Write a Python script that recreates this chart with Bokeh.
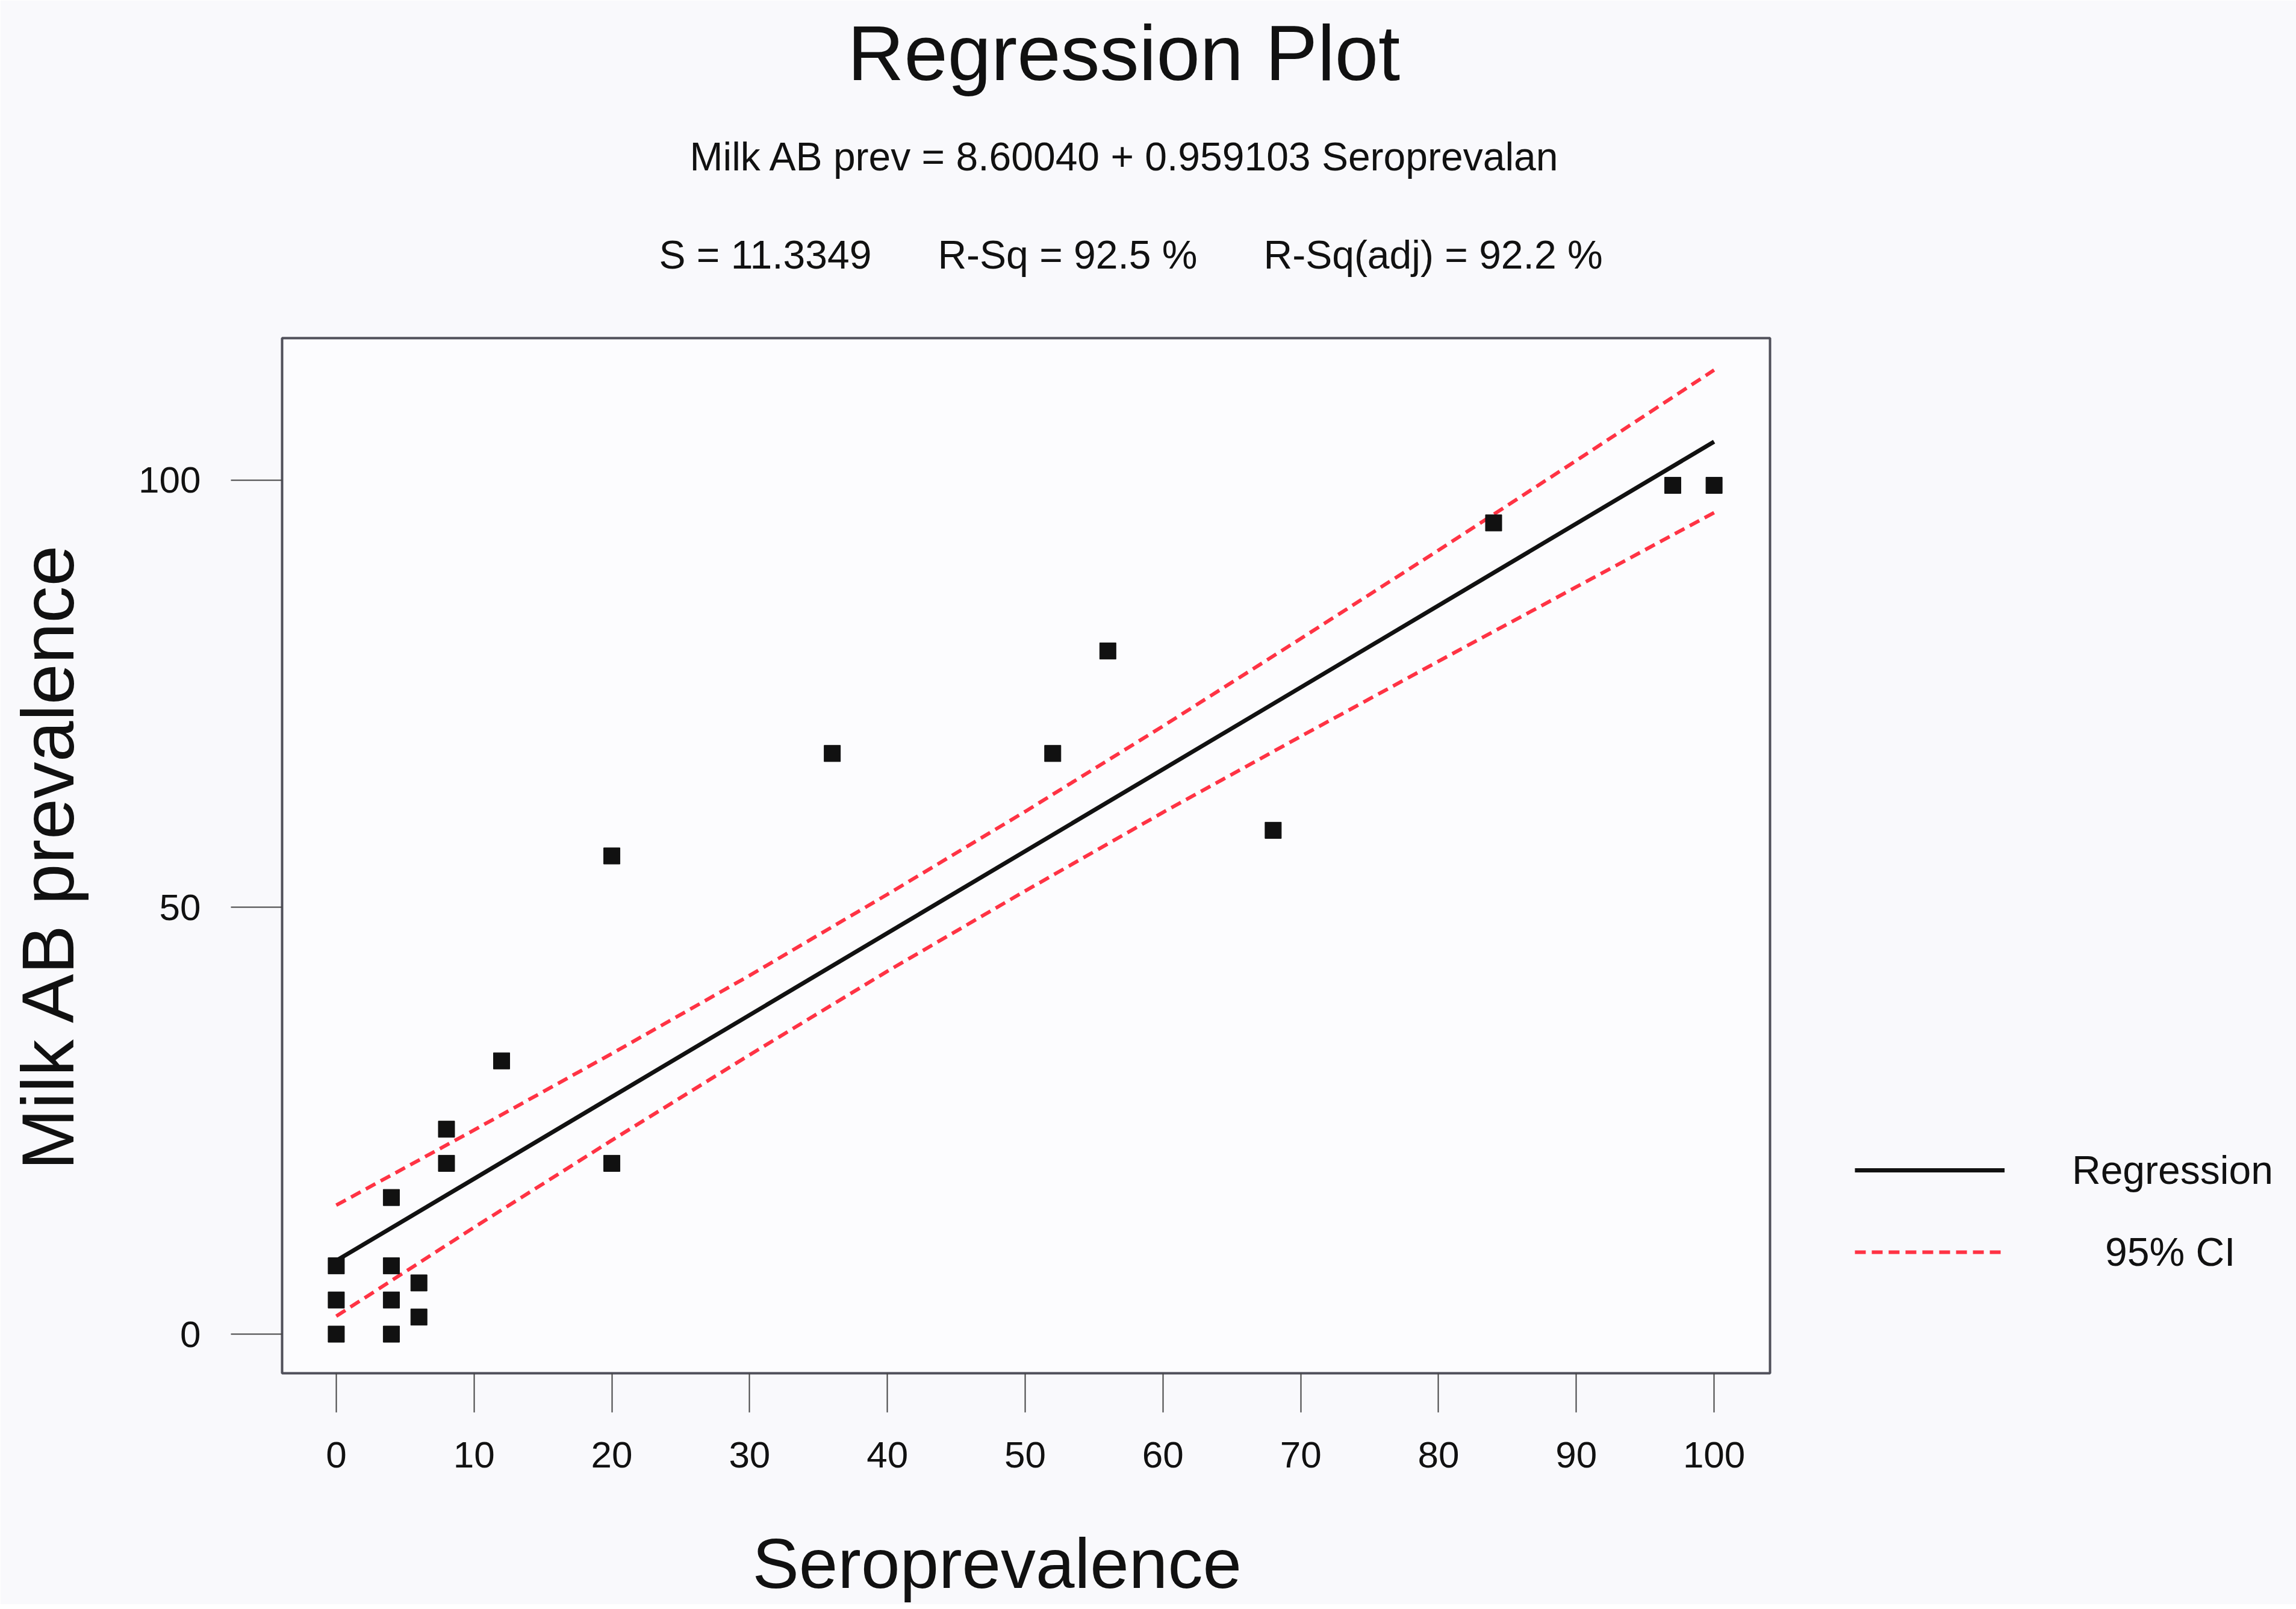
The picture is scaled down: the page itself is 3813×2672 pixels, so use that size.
from bokeh.plotting import figure
from bokeh.models import Legend, LegendItem, Range1d, FixedTicker, Title
from bokeh.embed import file_html
from bokeh.resources import INLINE

# ---- data ----
sero = [0, 0, 0, 4, 4, 4, 4, 6, 6, 8, 8, 12, 20, 20, 36, 52, 56, 68, 84, 97, 100]
milk = [0, 4, 8, 0, 4, 8, 16, 6, 2, 20, 24, 32, 20, 56, 68, 68, 80, 59, 95, 99.4, 99.4]

reg_x = [0, 100]
reg_y = [8.60, 104.51]

ci_x = [0, 10, 20, 30, 40, 50, 60, 70, 80, 90, 100]
ci_upper = [15.1, 23.9, 32.85, 42.0, 51.5, 61.2, 71.2, 81.45, 91.8, 102.3, 112.9]
ci_lower = [2.1, 12.5, 22.7, 32.7, 42.5, 51.9, 61.1, 70.0, 78.8, 87.5, 96.2]

x_ticks = [0, 10, 20, 30, 40, 50, 60, 70, 80, 90, 100]
y_ticks = [0, 50, 100]

title_text = "Regression Plot"
subtitle_text = "Milk AB prev = 8.60040 + 0.959103 Seroprevalan"
NB = "\u00a0" * 6
stats_text = "S = 11.3349" + NB + "R-Sq = 92.5 %" + NB + "R-Sq(adj) = 92.2 %"
# the original label carried a blanked-out unit after the word, hence off-centre
x_label = "Seroprevalence" + "\u00a0" * 3
y_label = "Milk AB prevalence"
legend_labels = ["Regression", "\u00a0\u00a0\u00a095% CI"]

FONT = "Liberation Sans"
RED = "#FF3344"
INK = "#111111"
PAPER = "#f9f9fc"

p = figure(frame_width=2471, frame_height=1719,
           min_border_left=468, min_border_right=858,
           min_border_top=561, min_border_bottom=376,
           x_range=Range1d(-3.93, 104.06), y_range=Range1d(-4.58, 116.64),
           output_backend="svg", toolbar_location=None)

p.background_fill_color = "#fcfcfe"
p.border_fill_color = PAPER
p.outline_line_color = "#50505a"
p.outline_line_width = 4
p.xgrid.visible = False
p.ygrid.visible = False

for ax in (p.xaxis[0], p.yaxis[0]):
    ax.axis_line_color = None
    ax.major_tick_in = 0
    ax.minor_tick_line_color = None
    ax.major_tick_line_color = "#444444"
    ax.major_tick_line_width = 2
    ax.major_label_text_font = FONT
    ax.major_label_text_font_size = "62px"
    ax.major_label_text_color = INK
    ax.axis_label_text_font = FONT
    ax.axis_label_text_font_style = "normal"
    ax.axis_label_text_color = INK

p.xaxis[0].ticker = FixedTicker(ticks=x_ticks)
p.xaxis[0].major_tick_out = 65
p.xaxis[0].major_label_standoff = 49
p.xaxis[0].axis_label = x_label
p.xaxis[0].axis_label_text_font_size = "116px"
p.xaxis[0].axis_label_standoff = 92

p.yaxis[0].ticker = FixedTicker(ticks=y_ticks)
p.yaxis[0].major_tick_out = 85
p.yaxis[0].major_label_standoff = 50
p.yaxis[0].axis_label = y_label
p.yaxis[0].axis_label_text_font_size = "122px"
p.yaxis[0].axis_label_standoff = 79

r_reg = p.line(reg_x, reg_y, line_color=INK, line_width=7)
r_up = p.line(ci_x, ci_upper, line_color=RED, line_width=6, line_dash="18 10")
r_lo = p.line(ci_x, ci_lower, line_color=RED, line_width=6, line_dash="18 10")
p.scatter(sero, milk, marker="square", size=27, fill_color=INK, line_color=INK)

legend = Legend(items=[LegendItem(label=legend_labels[0], renderers=[r_reg]),
                       LegendItem(label=legend_labels[1], renderers=[r_up])],
                location=(141, 151), orientation="vertical",
                glyph_width=249, glyph_height=100, label_height=100,
                spacing=36, padding=0, margin=0, label_standoff=112,
                label_text_font=FONT, label_text_font_size="66px",
                label_text_color=INK,
                border_line_alpha=0, background_fill_alpha=0)
p.add_layout(legend, "right")

# blank spacer between the plot box and the header lines (nearest the frame)
p.add_layout(Title(text="\u00a0", text_font=FONT, text_font_size="10px",
                   standoff=61, text_color=PAPER), "above")

# stacked header lines (earlier = nearer the frame)
frame_left = 476
for txt, left, standoff, size in [(stats_text, 1102, 56, "66px"),
                                  (subtitle_text, 1153, 117, "66px"),
                                  (title_text, 1415, 3, "130px")]:
    p.add_layout(Title(text=txt, align="left", offset=left - frame_left,
                       standoff=standoff, text_font=FONT, text_font_size=size,
                       text_font_style="normal", text_color=INK), "above")

open("out.html", "w").write(file_html(p, INLINE))
